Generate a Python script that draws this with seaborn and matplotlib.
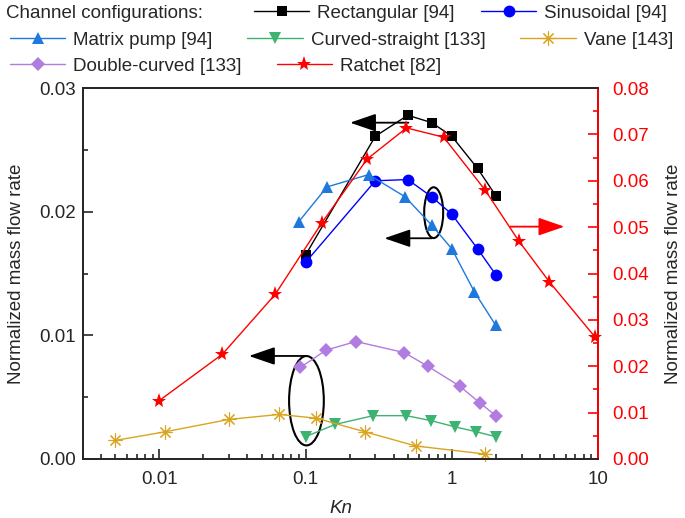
import numpy as np
import pandas as pd
import seaborn as sns
import matplotlib.pyplot as plt
from matplotlib.patches import Ellipse
from matplotlib.ticker import MultipleLocator, LogLocator, NullFormatter, FormatStrFormatter

# values (Kn, normalized mass flow rate)
rect_kn = [0.1, 0.3, 0.5, 0.73, 1.0, 1.5, 2.0]
rect_q = [0.0165, 0.0261, 0.0278, 0.0272, 0.0261, 0.0235, 0.0213]
sin_kn = [0.1, 0.3, 0.5, 0.73, 1.0, 1.5, 2.0]
sin_q = [0.0159, 0.0225, 0.0226, 0.0212, 0.0198, 0.0170, 0.0149]
mp_kn = [0.09, 0.14, 0.27, 0.48, 0.73, 1.0, 1.43, 2.0]
mp_q = [0.0192, 0.0220, 0.0230, 0.0212, 0.0189, 0.0170, 0.0135, 0.0108]
cs_kn = [0.1, 0.16, 0.29, 0.49, 0.72, 1.05, 1.47, 2.0]
cs_q = [0.0018, 0.0028, 0.0035, 0.0035, 0.0031, 0.0026, 0.0022, 0.0018]
vane_kn = [0.005, 0.011, 0.03, 0.066, 0.118, 0.254, 0.567, 1.68]
vane_q = [0.0015, 0.0022, 0.0032, 0.0036, 0.0033, 0.0022, 0.00105, 0.0004]
dc_kn = [0.092, 0.138, 0.221, 0.474, 0.685, 1.13, 1.57, 2.0]
dc_q = [0.0074, 0.0088, 0.0095, 0.0086, 0.0075, 0.0059, 0.0045, 0.0035]
# ratchet is plotted against the right (red) axis
ratchet_kn = [0.01, 0.027, 0.062, 0.129, 0.264, 0.49, 0.88, 1.69, 2.86, 4.65, 9.6]
ratchet_q = [0.0126, 0.0226, 0.0355, 0.0509, 0.0647, 0.0714, 0.0694, 0.0580, 0.0471, 0.0382, 0.0262]

kn_ticks = [0.01, 0.1, 1, 10]
kn_tick_labels = ["0.01", "0.1", "1", "10"]

sns.set_style("ticks")
plt.rcParams["font.family"] = ["Liberation Sans", "DejaVu Sans"]
plt.rcParams["font.size"] = 13.5

fig = plt.figure(figsize=(6.85, 5.18), dpi=100)
ax = fig.add_axes([0.121, 0.114, 0.752, 0.716])
ax2 = ax.twinx()

series = [
    ("Rectangular [94]", rect_kn, rect_q, "black", "s", 7.5, ax),
    ("Sinusoidal [94]", sin_kn, sin_q, "#0000ff", "o", 8.5, ax),
    ("Matrix pump [94]", mp_kn, mp_q, "#1f78dc", "^", 9, ax),
    ("Curved-straight [133]", cs_kn, cs_q, "#3cb371", "v", 9, ax),
    ("Vane [143]", vane_kn, vane_q, "#d9a520", (8, 2, 0), 10, ax),
    ("Double-curved [133]", dc_kn, dc_q, "#b07ce0", "D", 7, ax),
    ("Ratchet [82]", ratchet_kn, ratchet_q, "#ff0000", "*", 11, ax2),
]

handles = {}
for name, kn, q, col, mk, ms, a in series:
    df = pd.DataFrame({"Kn": kn, "q": q})
    sns.lineplot(data=df, x="Kn", y="q", ax=a, color=col, marker=mk, markersize=ms,
                 markeredgecolor=col, markeredgewidth=0.8 if mk == (8, 2, 0) else 0,
                 linewidth=1, label=name, clip_on=False)
    handles[name] = a.get_lines()[-1]

for a in (ax, ax2):
    if a.get_legend() is not None:
        a.get_legend().remove()

ax.set_xscale("log")
ax.set_xlim(0.003, 10)
ax.set_ylim(0, 0.03)
ax2.set_ylim(0, 0.08)
ax.set_xticks(kn_ticks)
ax.set_xticklabels(kn_tick_labels)
ax.xaxis.set_minor_locator(LogLocator(base=10, subs=np.arange(2, 10), numticks=20))
ax.xaxis.set_minor_formatter(NullFormatter())
ax.yaxis.set_major_locator(MultipleLocator(0.01))
ax.yaxis.set_minor_locator(MultipleLocator(0.005))
ax.yaxis.set_major_formatter(FormatStrFormatter("%.2f"))
ax2.yaxis.set_major_locator(MultipleLocator(0.01))
ax2.yaxis.set_minor_locator(MultipleLocator(0.005))
ax2.yaxis.set_major_formatter(FormatStrFormatter("%.2f"))

ax.tick_params(which="both", direction="in", top=False, right=False, labelsize=13.5, width=1.2)
ax.tick_params(which="major", length=7)
ax.tick_params(which="minor", length=3.5)
ax.tick_params(axis="y", which="both", pad=5)
ax.tick_params(axis="x", which="both", pad=9)
ax2.tick_params(which="both", direction="in", colors="red", labelsize=13.5, width=1.2, pad=10)
ax2.tick_params(which="major", length=7)
ax2.tick_params(which="minor", length=3.5)
for s in ax.spines.values():
    s.set_linewidth(1.3)
for s in ax2.spines.values():
    s.set_linewidth(1.3)
ax2.spines["right"].set_color("red")

ax.set_xlabel("Kn", fontsize=13.5, style="italic", labelpad=8)
ax.set_ylabel("Normalized mass flow rate", fontsize=13.5, labelpad=10)
ax2.set_ylabel("Normalized mass flow rate", fontsize=13.5, labelpad=12, rotation=90)

# annotation arrows pointing to the relevant axis
arrow = dict(arrowstyle="-|>,head_length=1.6,head_width=0.55", lw=1.3,
             shrinkA=0, shrinkB=0, mutation_scale=10)
ax.annotate("", xy=(0.2015, 0.0272), xytext=(0.505, 0.0272), arrowprops=dict(arrow, color="black"))
ax.annotate("", xy=(0.346, 0.01785), xytext=(0.73, 0.01785), arrowprops=dict(arrow, color="black"))
ax.annotate("", xy=(5.89, 0.01879), xytext=(2.51, 0.01879), arrowprops=dict(arrow, color="red"))
ax.annotate("", xy=(0.041, 0.00833), xytext=(0.1016, 0.00833), arrowprops=dict(arrow, color="black"))
ax.add_patch(Ellipse((0.681, 0.664), 0.0369, 0.137, transform=ax.transAxes,
                     fill=False, ec="black", lw=1.5))
ax.add_patch(Ellipse((0.434, 0.157), 0.0674, 0.241, transform=ax.transAxes,
                     fill=False, ec="black", lw=1.5))

# legend, laid out in three rows like the original
fig.text(6 / 685, 1 - 13 / 518, "Channel configurations:", ha="left", va="center", fontsize=13.5)
leg_kw = dict(loc="center left", frameon=False, borderpad=0, borderaxespad=0,
              handlelength=2.95, handletextpad=0.43, fontsize=13.5)
rows = [
    (["Rectangular [94]", "Sinusoidal [94]"], 254, 13, 1.4),
    (["Matrix pump [94]", "Curved-straight [133]", "Vane [143]"], 10, 40, 1.85),
    (["Double-curved [133]", "Ratchet [82]"], 10, 66, 1.85),
]
for names, x0, y0, cs in rows:
    fig.legend([handles[n] for n in names], names, ncol=len(names), columnspacing=cs,
               bbox_to_anchor=(x0 / 685, 1 - y0 / 518), **leg_kw)

fig.savefig("out.png", dpi=100)
